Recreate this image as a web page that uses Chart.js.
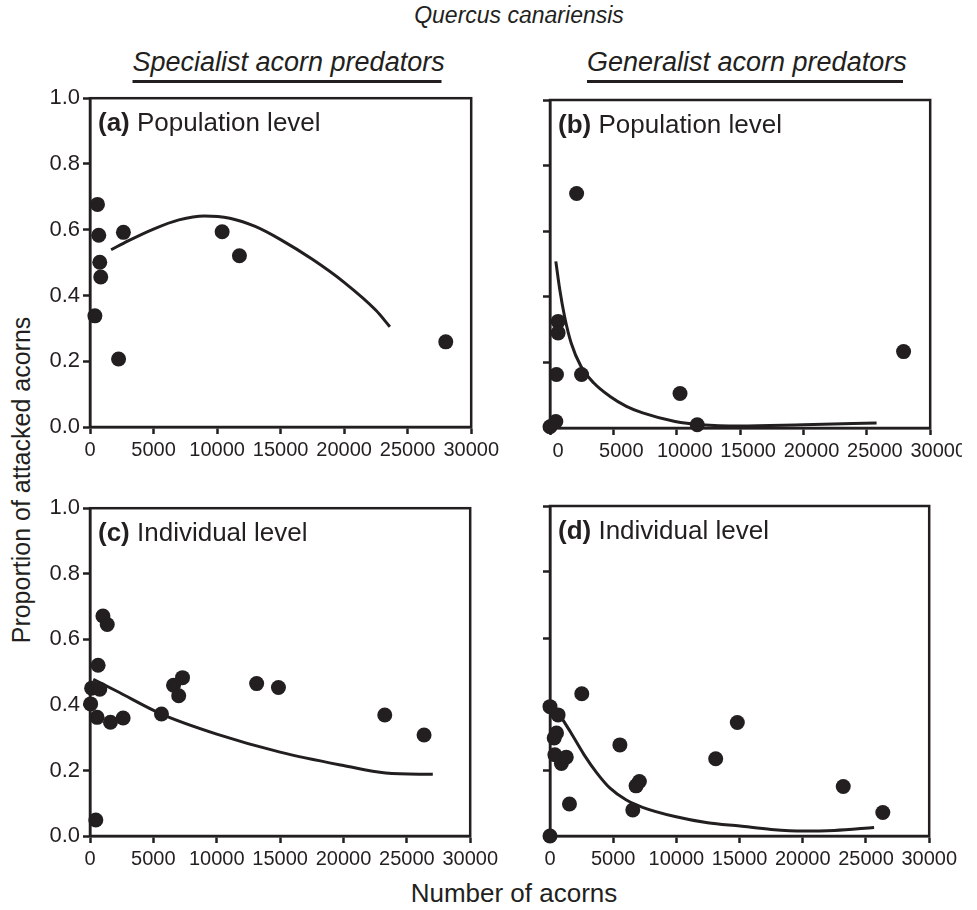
<!DOCTYPE html>
<html>
<head>
<meta charset="utf-8">
<script src="https://cdn.jsdelivr.net/npm/chart.js@4.4.1/dist/chart.umd.min.js"></script>
<style>
  html, body { margin: 0; padding: 0; background: #fff; }
  body { width: 977px; height: 910px; position: relative; overflow: hidden;
         font-family: "Liberation Sans", Arial, sans-serif; color: #231f20; }
  canvas { position: absolute; }
  .txt { position: absolute; white-space: nowrap; }
  .title { font-style: italic; font-size: 23px; transform: translateX(-50%); }
  .head { font-style: italic; font-size: 27px; line-height: 31px; padding-bottom: 2px;
          border-bottom: 3px solid #231f20; transform: translateX(-50%); }
  .axis-x { font-size: 26px; transform: translateX(-50%); }
  .axis-y { font-size: 25px; transform: translate(-50%, -50%) rotate(-90deg); }
</style>
</head>
<body>

<div class="txt title" style="left:519px; top:2px;">Quercus canariensis</div>
<div class="txt head" style="left:287px; top:47px; width:309px; text-align:center;">Specialist acorn predators</div>
<div class="txt head" style="left:745px; top:47px; width:316px; text-align:center;">Generalist acorn predators</div>
<div class="txt axis-y" style="left:21px; top:480px;">Proportion of attacked acorns</div>
<div class="txt axis-x" style="left:514px; top:878px;">Number of acorns</div>

<canvas id="chart-a"></canvas>
<canvas id="chart-b"></canvas>
<canvas id="chart-c"></canvas>
<canvas id="chart-d"></canvas>

<script>
// ---- data ----
const xTickValues = [0, 5000, 10000, 15000, 20000, 25000, 30000];
const yTickValues = [0, 0.2, 0.4, 0.6, 0.8, 1.0];

// (a) specialists, population level
const aX = [590, 690, 770, 845, 385, 2250, 2630, 10400, 11760, 28000];
const aY = [0.677, 0.583, 0.501, 0.456, 0.338, 0.207, 0.592, 0.594, 0.521, 0.259];
const aFitX = [1660, 3000, 5000, 7000, 9000, 11000, 13000, 15000, 17500, 20000, 22500, 23600];
const aFitY = [0.539, 0.566, 0.602, 0.630, 0.642, 0.635, 0.610, 0.570, 0.510, 0.440, 0.355, 0.305];

// (b) generalists, population level
const bX = [2100, 640, 640, 510, 2490, 460, 0, 10260, 11620, 27900];
const bY = [0.715, 0.325, 0.290, 0.163, 0.163, 0.020, 0.004, 0.105, 0.010, 0.233];
const bFitX = [460, 770, 1150, 1670, 2440, 3460, 4740, 6030, 7310, 9870, 11920, 15000, 20000, 25770];
const bFitY = [0.508, 0.422, 0.340, 0.259, 0.188, 0.137, 0.096, 0.066, 0.046, 0.020, 0.010, 0.006, 0.010, 0.015];

// (c) specialists, individual level
const cX = [1020, 1360, 640, 130, 770, 50, 560, 1615, 2615, 460, 5640, 6590, 7000, 7300, 13150, 14870, 23260, 26360];
const cY = [0.671, 0.645, 0.521, 0.451, 0.448, 0.403, 0.362, 0.347, 0.360, 0.049, 0.372, 0.460, 0.428, 0.483, 0.465, 0.453, 0.369, 0.308];
const cFitX = [256, 2050, 5640, 10000, 15000, 20000, 23330, 27050];
const cFitY = [0.478, 0.443, 0.372, 0.311, 0.256, 0.215, 0.192, 0.188];

// (d) generalists, individual level
const dX = [0, 640, 515, 330, 385, 900, 1285, 1540, 0, 2515, 5530, 6550, 6810, 7070, 13110, 14820, 23200, 26330];
const dY = [0.392, 0.367, 0.312, 0.297, 0.246, 0.220, 0.239, 0.097, 0.0, 0.431, 0.276, 0.079, 0.152, 0.165, 0.234, 0.344, 0.150, 0.071];
const dFitX = [770, 1670, 2700, 3730, 4750, 6040, 7320, 9890, 12470, 15030, 17500, 20000, 22500, 25640];
const dFitY = [0.367, 0.312, 0.246, 0.190, 0.145, 0.109, 0.087, 0.059, 0.040, 0.030, 0.020, 0.015, 0.017, 0.026];

// ---- layout ----
const INK = '#231f20';
const FONT = '"Liberation Sans", Arial, sans-serif';
const Y_AXIS_W = 60, X_AXIS_H = 44, PAD_TOP = 14, PAD_RIGHT = 22;

const panels = [
    { id: 'chart-a', tag: '(a)', label: 'Population level', xs: aX, ys: aY, fx: aFitX, fy: aFitY,
      area: { left: 90, top: 96, right: 481, bottom: 427 }, yLabels: true, labelOffset: 0 },
    { id: 'chart-b', tag: '(b)', label: 'Population level', xs: bX, ys: bY, fx: bFitX, fy: bFitY,
      area: { left: 550, top: 100, right: 940, bottom: 428 }, yLabels: false, labelOffset: 8 },
    { id: 'chart-c', tag: '(c)', label: 'Individual level', xs: cX, ys: cY, fx: cFitX, fy: cFitY,
      area: { left: 90, top: 506, right: 480, bottom: 836 }, yLabels: true, labelOffset: 0 },
    { id: 'chart-d', tag: '(d)', label: 'Individual level', xs: dX, ys: dY, fx: dFitX, fy: dFitY,
      area: { left: 550, top: 506, right: 939, bottom: 836 }, yLabels: false, labelOffset: 0 }
];

// box around the plot + panel caption
const framePlugin = {
    id: 'frame',
    afterDraw(chart, args, opts) {
        const { ctx, chartArea: { left, top, right, bottom } } = chart;
        ctx.save();
        ctx.strokeStyle = INK;
        ctx.lineWidth = 2.5;
        ctx.strokeRect(left, top, right - left, bottom - top);

        ctx.fillStyle = INK;
        ctx.textBaseline = 'alphabetic';
        ctx.font = 'bold 26px ' + FONT;
        const tx = left + 8, ty = top + 33;
        ctx.fillText(opts.tag, tx, ty);
        const w = ctx.measureText(opts.tag + ' ').width;
        ctx.font = '26px ' + FONT;
        ctx.fillText(opts.label, tx + w, ty);
        ctx.restore();
    }
};

function makeChart(p) {
    const el = document.getElementById(p.id);
    const areaW = p.area.right - p.area.left;
    const areaH = p.area.bottom - p.area.top;
    const w = areaW + Y_AXIS_W + PAD_RIGHT;
    const h = areaH + PAD_TOP + X_AXIS_H;
    el.style.left = (p.area.left - Y_AXIS_W) + 'px';
    el.style.top = (p.area.top - PAD_TOP) + 'px';
    el.width = w; el.height = h;
    el.style.width = w + 'px'; el.style.height = h + 'px';

    const pts = p.xs.map((x, i) => ({ x, y: p.ys[i] }));
    const fit = p.fx.map((x, i) => ({ x, y: p.fy[i] }));

    return new Chart(el, {
        type: 'scatter',
        data: {
            datasets: [
                {
                    data: pts,
                    backgroundColor: INK,
                    borderWidth: 0,
                    pointRadius: 7.5,
                    clip: false
                },
                {
                    data: fit,
                    showLine: true,
                    borderColor: INK,
                    borderWidth: 3,
                    pointRadius: 0,
                    cubicInterpolationMode: 'monotone',
                    fill: false
                }
            ]
        },
        options: {
            responsive: false,
            animation: false,
            events: [],
            layout: { padding: { top: PAD_TOP, right: PAD_RIGHT, left: 0, bottom: 0 } },
            plugins: {
                legend: { display: false },
                tooltip: { enabled: false },
                frame: { tag: p.tag, label: p.label }
            },
            scales: {
                x: {
                    type: 'linear',
                    min: 0, max: 30000,
                    afterBuildTicks: s => { s.ticks = xTickValues.map(v => ({ value: v })); },
                    afterFit: s => { s.height = X_AXIS_H; },
                    border: { color: INK, width: 2.5 },
                    grid: { drawOnChartArea: false, drawTicks: true, tickLength: 7, tickWidth: 2.5, tickColor: INK },
                    ticks: {
                        color: INK,
                        font: { family: FONT, size: 20 },
                        padding: 4,
                        maxRotation: 0,
                        labelOffset: p.labelOffset,
                        callback: v => String(v)
                    }
                },
                y: {
                    type: 'linear',
                    min: 0, max: 1,
                    afterBuildTicks: s => { s.ticks = yTickValues.map(v => ({ value: v })); },
                    afterFit: s => { s.width = Y_AXIS_W; },
                    border: { color: INK, width: 2.5 },
                    grid: { drawOnChartArea: false, drawTicks: true, tickLength: 7, tickWidth: 2.5, tickColor: INK },
                    ticks: {
                        display: p.yLabels,
                        color: INK,
                        font: { family: FONT, size: 22 },
                        padding: 3,
                        callback: v => v.toFixed(1)
                    }
                }
            }
        },
        plugins: [framePlugin]
    });
}

panels.forEach(makeChart);
</script>
</body>
</html>
